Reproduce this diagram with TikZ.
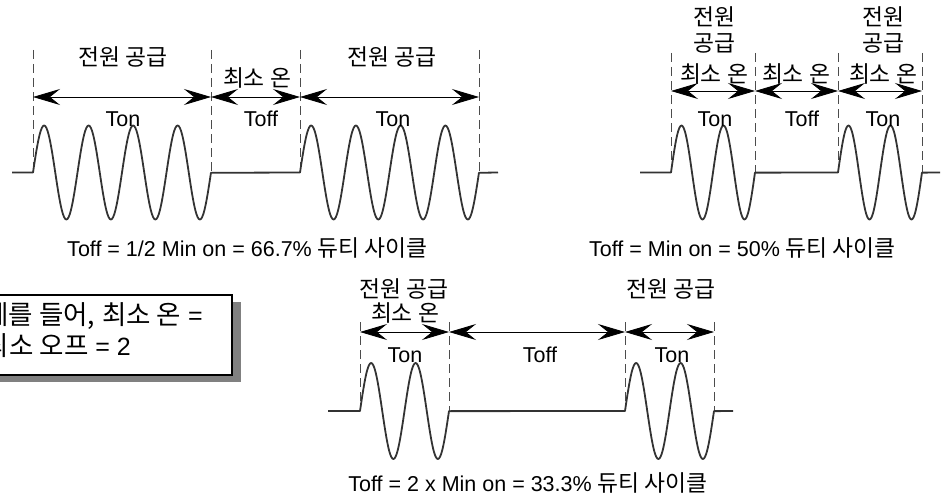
\documentclass[tikz,border=0pt]{standalone}
\usepackage{fontspec}
\setmainfont{Liberation Sans}
\newfontfamily\kr{Noto Sans CJK KR}[Scale=1.06]
\usetikzlibrary{arrows.meta}
\begin{document}
\begin{tikzpicture}[x=1pt,y=-1pt,
  guide/.style={draw=black!70, line width=0.8pt, dash pattern=on 9pt off 5pt},
  span/.style={line width=0.8pt, {Stealth[length=27pt,width=16pt,inset=10pt]}-{Stealth[length=27pt,width=16pt,inset=10pt]}},
  signal/.style={draw=black!80, line width=1.8pt, line join=round},
  lbl/.style={inner sep=0pt, anchor=base, font=\fontsize{21.5}{25}\selectfont},
  klbl/.style={inner sep=0pt, anchor=base, font=\fontsize{21.5}{25}\selectfont\kr},
  boxtxt/.style={inner sep=0pt, anchor=base east, font=\fontsize{25}{30}\selectfont},
]
\useasboundingbox (0,0) rectangle (945,495);
\clip (0,0) rectangle (945,495);

% ---------- diagram 1 ----------
\foreach \n/\xx in {a/33,b/211,c/300,d/479}{
  \coordinate (A\n) at (\xx,97);
  \draw[guide] (\xx,50) -- (\xx,172);
}
\draw[signal] (12,172.5) -- (33,172.5)
  -- plot[domain=0:4,samples=161,smooth] ({33+44.5*\x},{172.5-47*sin(360*\x)})
  -- (300,172.5)
  -- plot[domain=0:4,samples=161,smooth] ({300+44.75*\x},{172.5-47*sin(360*\x)})
  -- (498,172.5);
\draw[span] (Aa) -- (Ab);
\draw[span] (Ab) -- (Ac);
\draw[span] (Ac) -- (Ad);
\node[klbl] (s1) at (123,66) {전원 공급};
\node[klbl] (m1) at (257,86) {최소 온};
\node[klbl] (s2) at (392,66) {전원 공급};
\node[lbl] (t1) at (123,126) {Ton};
\node[lbl] (t2) at (261,126) {Toff};
\node[lbl] (t3) at (393,126) {Ton};
\node[lbl] (c1) at (247.5,256) {Toff = 1/2 Min on = 66.7\% {\kr 듀티 사이클}};

% ---------- diagram 2 ----------
\foreach \n/\xx in {a/671,b/755,c/838,d/922}{
  \coordinate (B\n) at (\xx,91);
  \draw[guide] (\xx,53) -- (\xx,172);
}
\draw[signal] (640,172.5) -- (671,172.5)
  -- plot[domain=0:2,samples=81,smooth] ({671+42*\x},{172.5-47*sin(360*\x)})
  -- (838,172.5)
  -- plot[domain=0:2,samples=81,smooth] ({838+42*\x},{172.5-47*sin(360*\x)})
  -- (940,172.5);
\draw[span] (Ba) -- (Bb);
\draw[span] (Bb) -- (Bc);
\draw[span] (Bc) -- (Bd);
\node[klbl] (u1) at (714,26) {전원};
\node[klbl] (u2) at (714,52) {공급};
\node[klbl] (u3) at (714,82) {최소 온};
\node[klbl] (u4) at (796,82) {최소 온};
\node[klbl] (u5) at (883,26) {전원};
\node[klbl] (u6) at (883,52) {공급};
\node[klbl] (u7) at (883,82) {최소 온};
\node[lbl] (v1) at (715,126) {Ton};
\node[lbl] (v2) at (802,126) {Toff};
\node[lbl] (v3) at (883,126) {Ton};
\node[lbl] (c2) at (742.5,256) {Toff = Min on = 50\% {\kr 듀티 사이클}};

% ---------- diagram 3 ----------
\foreach \n/\xx in {a/360,b/449,c/625,d/714}{
  \coordinate (C\n) at (\xx,332);
  \draw[guide] (\xx,322) -- (\xx,411);
}
\draw[signal] (328,411) -- (360,411)
  -- plot[domain=0:2,samples=81,smooth] ({360+44.5*\x},{411-48*sin(360*\x)})
  -- (625,411)
  -- plot[domain=0:2,samples=81,smooth] ({625+44.5*\x},{411-48*sin(360*\x)})
  -- (733,411);
\draw[span] (Ca) -- (Cb);
\draw[span] (Cb) -- (Cc);
\draw[span] (Cc) -- (Cd);
\node[klbl] (w1) at (404,297) {전원 공급};
\node[klbl] (w2) at (405,321) {최소 온};
\node[klbl] (w3) at (671,297) {전원 공급};
\node[lbl] (x1) at (405,362) {Ton};
\node[lbl] (x2) at (540,362) {Toff};
\node[lbl] (x3) at (672,362) {Ton};
\node[lbl] (c3) at (528,491) {Toff = 2 x Min on = 33.3\% {\kr 듀티 사이클}};

% ---------- note box ----------
\fill[black!50] (-11,302) rectangle (241,382);
\draw[line width=2.2pt, fill=white] (-20,295) rectangle (232,375);
\node[boxtxt] (n1) at (203,324) {{\kr 예를 들어,} {\kr 최소 온} =};
\node[boxtxt] (n2) at (131,355) {{\kr 최소 오프} = 2};
\end{tikzpicture}
\end{document}
